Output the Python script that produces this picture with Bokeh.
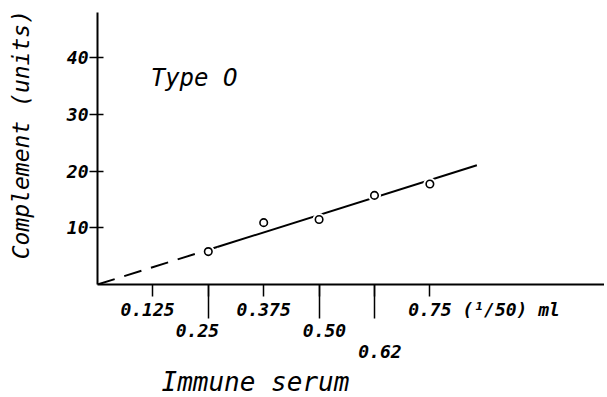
from bokeh.plotting import figure
from bokeh.models import Range1d, FixedTicker, Label, Title
from bokeh.embed import file_html
from bokeh.resources import INLINE

# ---- data ----
serum_ml = [0.25, 0.375, 0.50, 0.625, 0.75]
complement_units = [5.8, 10.9, 11.45, 15.7, 17.7]

fit_dashed_x = [0.0, 0.27]
fit_dashed_y = [0.0, 6.6]
fit_solid_x = [0.27, 0.856]
fit_solid_y = [6.6, 21.0]

x_tick_values = [0.125, 0.25, 0.375, 0.50, 0.625, 0.75]
x_tick_labels = ["0.125", "0.25", "0.375", "0.50", "0.62", "0.75 (\u00b9/50) ml"]
x_long_ticks = [0.25, 0.50, 0.625]
y_ticks = [10, 20, 30, 40]

title_text = "Type O"
x_title = "Immune serum"
y_title = "Complement (units)"

# ---- layout (not data) ----
FONT = "DejaVu Sans Mono"
NB = "\u00a0"
# vertical row (0,1,2) and padding for each x tick label, to stagger them as in the reference
label_rows = [0, 1, 0, 1, 2, 0]
label_pad_before = [0, 0, 0, 1, 1, 10]
label_pad_after = [1, 2, 0, 0, 0, 0]

overrides = {}
for v, t, r, a, b in zip(x_tick_values, x_tick_labels, label_rows, label_pad_before, label_pad_after):
    overrides[v] = "\n" * r + NB * a + t + NB * b

p = figure(width=604, height=397, output_backend="svg", toolbar_location=None,
           x_range=Range1d(0, 1.144), y_range=Range1d(0, 47.93),
           min_border_left=97, min_border_right=0, min_border_top=12, min_border_bottom=113)
p.outline_line_color = None
p.xgrid.visible = False
p.ygrid.visible = False
p.background_fill_color = "white"
p.border_fill_color = "white"

xa = p.xaxis[0]
xa.ticker = FixedTicker(ticks=x_tick_values, minor_ticks=x_long_ticks)
xa.major_label_overrides = overrides
xa.axis_line_width = 2
xa.axis_line_color = "black"
xa.major_tick_in = 0
xa.major_tick_out = 12
xa.minor_tick_in = 0
xa.minor_tick_out = 34
xa.major_tick_line_width = 1.5
xa.minor_tick_line_width = 1.5
xa.major_tick_line_color = "black"
xa.minor_tick_line_color = "black"
xa.major_label_standoff = -20
xa.major_label_text_font = FONT
xa.major_label_text_font_style = "bold italic"
xa.major_label_text_font_size = "18px"
xa.major_label_text_color = "black"
xa.major_label_text_line_height = 1.0

ya = p.yaxis[0]
ya.ticker = FixedTicker(ticks=y_ticks, minor_ticks=[])
ya.axis_line_width = 2
ya.axis_line_color = "black"
ya.major_tick_in = 6
ya.major_tick_out = 8
ya.major_tick_line_width = 1.5
ya.major_tick_line_color = "black"
ya.minor_tick_line_color = None
ya.major_label_standoff = 1
ya.major_label_text_font = FONT
ya.major_label_text_font_style = "bold italic"
ya.major_label_text_font_size = "18px"
ya.major_label_text_color = "black"
ya.axis_label = NB * 2 + y_title
ya.axis_label_standoff = 30
ya.axis_label_text_font = FONT
ya.axis_label_text_font_style = "italic"
ya.axis_label_text_font_size = "23px"
ya.axis_label_text_color = "black"

# fitted line
p.line(fit_dashed_x, fit_dashed_y, line_color="black", line_width=2, line_dash="18 10")
p.line(fit_solid_x, fit_solid_y, line_color="black", line_width=2)

# points: white halo breaks the line, then open circle
p.scatter(serum_ml, complement_units, size=13, fill_color="white", line_color=None)
p.scatter(serum_ml, complement_units, size=7.5, fill_color="white", line_color="black", line_width=1.6)

# in-plot title
p.add_layout(Label(x=0.12, y=36.3, text=title_text, text_align="left", text_baseline="middle",
                   text_font=FONT, text_font_style="italic", text_font_size="24px", text_color="black"))

# x axis title
p.add_layout(Title(text=x_title, align="left", offset=64, standoff=0,
                   text_font=FONT, text_font_style="italic", text_font_size="26px",
                   text_color="black"), "below")

open("out.html", "w").write(file_html(p, INLINE))
